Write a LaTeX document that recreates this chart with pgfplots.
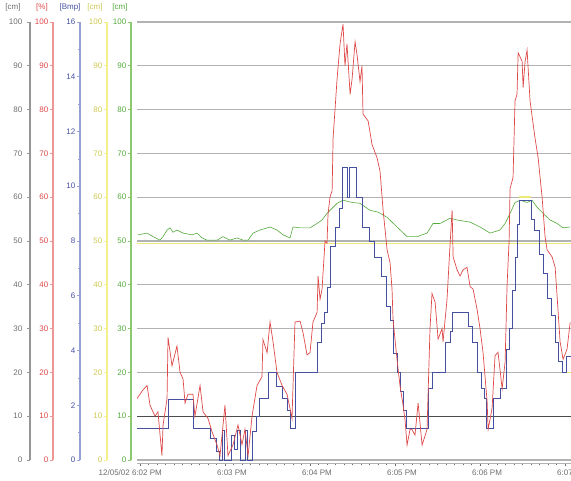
\documentclass[border=0pt]{standalone}
\usepackage{pgfplots}
\pgfplotsset{compat=1.18}
\usepackage{fontspec}
\setmainfont{Liberation Sans}

\definecolor{cgray}{RGB}{110,110,110}
\definecolor{cred}{RGB}{222,72,72}
\definecolor{cblue}{RGB}{70,80,160}
\definecolor{cyellow}{RGB}{238,232,120}
\definecolor{cgreen}{RGB}{85,170,60}
\definecolor{gridgray}{RGB}{178,178,178}
% colours of the scale lines and their labels
\definecolor{lgray}{RGB}{150,150,150}
\definecolor{lred}{RGB}{236,150,150}
\definecolor{lblue}{RGB}{150,160,210}
\definecolor{lyellow}{RGB}{244,240,140}
\definecolor{lgreen}{RGB}{140,200,110}
\definecolor{tyellow}{RGB}{205,200,80}

% time in seconds from the left edge of the plot, values on the 0-100 scale
\pgfplotstableread{
t v
0 14
4.2 16
7.1 17
9.2 12.5
12.7 10
14.8 11
17.6 1
18.4 8
21.2 14
21.9 28
24.7 21.5
28.2 26
30.4 20
32.5 18.5
33.9 13
36.0 15
39.5 15
40.9 10
44.5 17
46.6 11
50.1 9.5
52.9 6.5
56.5 3.4
58.6 1
62.1 12.5
64.2 1
67.8 3.5
71.3 8
74.1 3.5
76.2 7
78.4 1
81.2 10
84.7 17
88.2 19
88.9 27.5
91.8 24.5
93.9 31.5
96.0 27
98.8 20
102.4 17
105.9 15
109.4 9.5
111.5 31.5
115.1 31.7
117.2 29
120.0 24
122.1 24.5
124.2 31.5
127.1 33.7
127.8 42
129.2 36.7
130.6 39
132.7 50
134.1 49.5
134.8 56
136.2 60
137.7 61.5
138.4 73.5
141.2 87
143.3 95
145.4 99.5
146.8 90
148.2 95
150.4 83.5
151.8 87
153.9 95.5
155.3 92.5
157.4 86.4
158.8 90
159.5 79
163.1 77.4
165.9 72
169.4 69
171.5 66
173.7 57
176.5 48
178.6 45
180.0 39
180.7 32
183.5 23
185.6 17
187.8 12.5
189.2 9
190.6 3.4
192.7 7
194.1 7
194.8 6.5
196.2 5.7
198.4 13
201.2 3.4
204.7 7
206.8 30
208.2 38
210.4 36
212.5 27.6
215.3 30
216.0 27
218.8 36.7
221.0 49.5
222.4 57
223.1 46.4
225.9 43.4
228.0 42
230.1 43.4
232.9 44
235.1 39.6
237.2 39
240.0 34.4
242.1 30
244.2 24.6
247.1 13.3
247.8 7
250.6 11.8
252.7 23.8
254.8 24.6
257.7 16.3
259.8 22.4
261.2 40
262.6 50
263.3 62
265.4 64.5
266.8 82
268.2 83.5
269.0 93
271.8 91
272.5 85
273.9 91
275.3 93.6
277.4 82
280.9 73.5
283.1 69
285.9 60
288.0 51
289.4 48
292.9 46.4
295.1 44
296.5 37.3
298.6 27
300.7 23
303.5 25.3
305.7 31.4
}\redtab

% blue on its own 0-16 scale
\pgfplotstableread{
t v
0 1.15
21.9 2.2
39.5 1.15
51.5 0.8
55.8 0.3
57.9 0
60.0 1.1
61.4 0
66.4 0.9
68.5 0.4
70.6 1.1
72.7 0
76.2 1.1
77.6 0
81.2 1.05
84.0 1.6
86.1 2.25
92.5 3.2
98.1 2.7
102.4 2.25
105.9 1.8
108.0 1.15
111.5 3.2
127.1 4.3
129.9 5.0
132.0 5.4
134.1 6.3
136.2 7.8
139.8 8.5
142.6 9.2
144.7 10.7
148.6 9.6
149.6 10.7
154.6 9.6
158.8 8.5
163.8 8.0
167.3 7.4
172.3 6.7
175.8 5.6
178.6 5.1
180.7 3.9
183.5 3.2
185.6 2.5
187.8 1.8
189.9 1.15
205.4 2.6
208.2 3.2
217.4 4.3
221.0 4.7
222.4 5.4
233.7 4.9
236.5 4.3
240.0 3.2
242.8 2.6
245.0 2.25
246.4 1.15
251.3 2.25
256.2 2.6
260.5 4.05
262.6 4.8
264.7 6.2
266.8 7.4
268.2 8.6
269.6 9.5
278.1 8.8
280.2 8.4
283.8 7.5
286.6 6.8
289.4 5.9
292.2 5.3
295.1 4.3
297.2 3.6
300.0 3.2
302.8 3.8
306.3 3.8
}\bluetab

\pgfplotstableread{
t v
0.7 51.4
7.1 51.8
11.3 51
16.2 50.2
18.4 51
21.2 52.5
23.3 53
25.4 52
28.2 52.5
32.5 51.8
38.8 51.4
42.4 51.8
45.9 50.7
49.4 50.2
56.5 50.2
60.7 51
65.6 50.2
70.6 50.7
74.8 50.2
78.4 50.2
81.9 51.8
86.8 52.5
93.9 53.2
98.8 52.5
103.1 51.4
108.0 50.7
110.1 53.2
115.1 53
122.1 53
127.1 54
130.6 54.8
134.1 56.3
141.2 58.6
145.4 59.3
151.8 58.8
157.4 58.6
164.5 57
170.1 56.6
176.5 55.4
183.5 53.2
190.6 51
197.7 51
204.7 51.8
208.9 54
213.9 54
221.0 55.2
225.9 54.8
235.1 54.3
242.1 53.2
249.2 51.8
256.2 52.5
259.8 54
263.3 56.3
266.8 58.8
270.4 59.3
275.3 58.8
278.8 59.3
282.4 57.7
286.6 56.3
291.5 54.8
296.5 54
300.7 53
305.7 53.2
}\greentab

\pgfplotsset{
  scalebar/.style 2 args={
    scale only axis, width=8pt, height=438pt, anchor=south west,
    xmin=0, xmax=1, ymin=0, hide x axis,
    axis y line=left,
    y axis line style={draw=#1, line width=1.4pt, -},
    ytick style={draw=#1, line width=0.6pt},
    tick align=outside, major tick length=3pt, minor tick length=2pt,
    /pgf/number format/assume math mode=true,
    yticklabel style={text=#2, font=\fontsize{8}{9}\selectfont, inner sep=1.5pt},
  },
  plotarea/.style={
    scale only axis, width=434pt, height=441.5pt,
    at={(137pt,17.5pt)}, anchor=south west,
    xmin=0, xmax=306.3,
  },
}

\begin{document}
\begin{tikzpicture}
\tikzset{lbl/.style={font=\fontsize{8}{9}\selectfont, inner sep=0pt}}

% the five scales
\begin{axis}[scalebar={lgray}{cgray}, at={(30pt,21pt)}, ymax=100,
  ytick={0,10,...,100}, yticklabel style={xshift=-3pt}]
\end{axis}
\begin{axis}[scalebar={lred}{cred}, at={(53pt,21pt)}, ymax=100,
  ytick={0,10,...,100}]
\end{axis}
\begin{axis}[scalebar={lblue}{cblue}, at={(80pt,21pt)}, ymax=16,
  ytick={0,2,...,16}, minor y tick num=1]
\end{axis}
\begin{axis}[scalebar={lyellow}{tyellow}, at={(107pt,21pt)}, ymax=100,
  ytick={0,10,...,100}]
\end{axis}
\begin{axis}[scalebar={lgreen}{cgreen}, at={(131pt,21pt)}, ymax=100,
  ytick={0,10,...,100}]
\end{axis}

\node[lbl, text=cgray] at (13pt,474pt) {[cm]};
\node[lbl, text=cred] at (42pt,474pt) {[\%]};
\node[lbl, text=cblue] at (70pt,474pt) {[Bmp]};
\node[lbl, text=tyellow] at (95pt,474pt) {[cm]};
\node[lbl, text=cgreen] at (120pt,474pt) {[cm]};

% grid, time axis, gray, yellow and green series
\begin{axis}[plotarea,
  ymin=-0.8, ymax=100,
  axis x line*=bottom, axis y line*=left,
  y axis line style={draw=none},
  x axis line style={draw=gridgray, line width=1pt, -},
  ytick={0,10,...,100}, yticklabels={}, y tick style={draw=none},
  ymajorgrids, major grid style={draw=gridgray, line width=1.1pt},
  xtick={2.1,62.1,122.1,182.1,242.1,302.1},
  xticklabels={\llap{12/05/02\ }6:02 PM,6:03 PM,6:04 PM,6:05 PM,6:06 PM,6:07 PM},
  minor x tick num=9,
  tick align=outside, major tick length=3pt, minor tick length=2pt,
  x tick style={draw=cgray, line width=0.5pt},
  xticklabel style={font=\fontsize{8}{9}\selectfont, text=cgray, xshift=7pt},
]
\addplot[draw=black!70, line width=1pt] coordinates {(0,10) (306.3,10)};
\addplot[draw=cyellow, line width=1.4pt] coordinates {(0,49.4) (306.3,49.4)};
\addplot[draw=cyellow, line width=1.6pt] coordinates {(111.5,20) (127.1,20)};
\addplot[draw=cyellow, line width=1.6pt] coordinates {(208.2,20) (217.4,20)};
\addplot[draw=cyellow, line width=1.6pt] coordinates {(300.0,20) (306.3,20)};
\addplot[draw=cyellow, line width=1.6pt] coordinates {(269.6,60) (278.1,60)};
\addplot[draw=cgreen, line width=0.6pt] table[x=t, y=v] {\greentab};
\end{axis}

% blue on the 0-16 scale
\begin{axis}[plotarea, ymin=-0.128, ymax=16, hide axis]
\addplot[const plot, draw=cblue, line width=0.7pt] table[x=t, y=v] {\bluetab};
\end{axis}

% red on the 0-100 scale
\begin{axis}[plotarea, ymin=-0.8, ymax=100, hide axis]
\addplot[draw=cred, line width=0.7pt] table[x=t, y=v] {\redtab};
\end{axis}

\pgfresetboundingbox
\path[use as bounding box] (0,0) rectangle (571pt,481pt);
\end{tikzpicture}
\end{document}
